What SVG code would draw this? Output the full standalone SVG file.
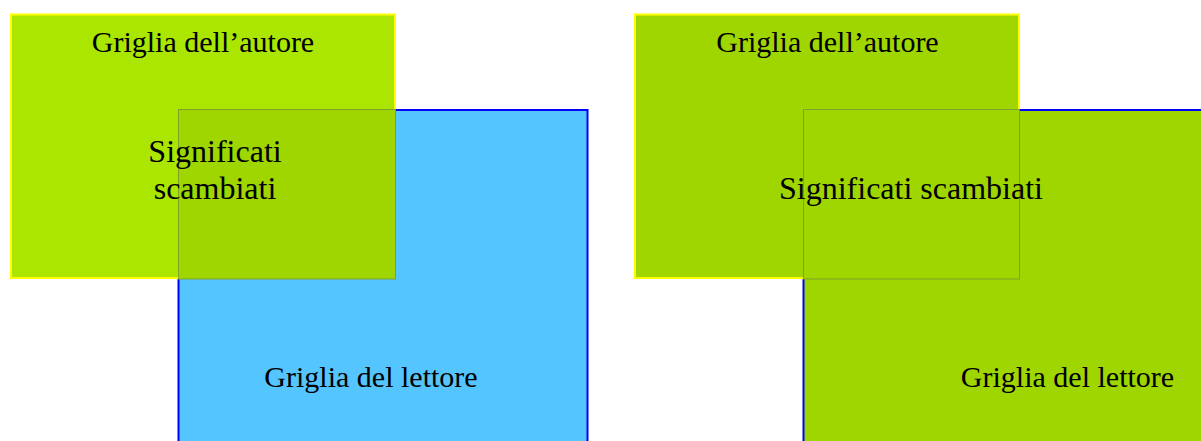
<svg xmlns="http://www.w3.org/2000/svg" width="1201" height="441" viewBox="0 0 1201 441">
<style>
.author{stroke:#FFFF00;stroke-width:2}
.reader{stroke:#0000FF;stroke-width:2}
.overlap{fill:#A0D600;stroke:#7FA02A;stroke-width:1}
.t{font-family:"Liberation Serif",serif;fill:#000;text-anchor:middle}
.s30{font-size:30px}
.s32{font-size:32px}
</style>
<rect width="1201" height="441" fill="#fff"/>
<g id="left-reader">
<rect class="reader" x="178.5" y="110" width="409" height="340" fill="#55C5FF"/>
</g>
<g id="left-author">
<rect class="author" x="11" y="14.5" width="384" height="263.5" fill="#AAE600"/>
</g>
<g id="left-overlap">
<rect class="overlap" x="178.5" y="109.5" width="217" height="169.5"/>
</g>
<g id="left-texts">
<text class="t s30" x="203" y="52">Griglia dell’autore</text>
<text class="t s32" x="215" y="162">Significati</text>
<text class="t s32" x="215" y="199">scambiati</text>
<text class="t s30" x="371" y="387">Griglia del lettore</text>
</g>
<g id="right-reader">
<rect class="reader" x="803.5" y="110" width="420" height="340" fill="#A0D600"/>
</g>
<g id="right-author">
<rect class="author" x="635" y="14.5" width="384" height="263.5" fill="#A0D600"/>
</g>
<g id="right-overlap">
<rect class="overlap" x="803.5" y="109.5" width="216" height="169.5"/>
</g>
<g id="right-texts">
<text class="t s30" x="827.5" y="52">Griglia dell’autore</text>
<text class="t s32" x="911" y="199">Significati scambiati</text>
<text class="t s30" x="1067.5" y="387">Griglia del lettore</text>
</g>
<g id="connectors"/>
</svg>
